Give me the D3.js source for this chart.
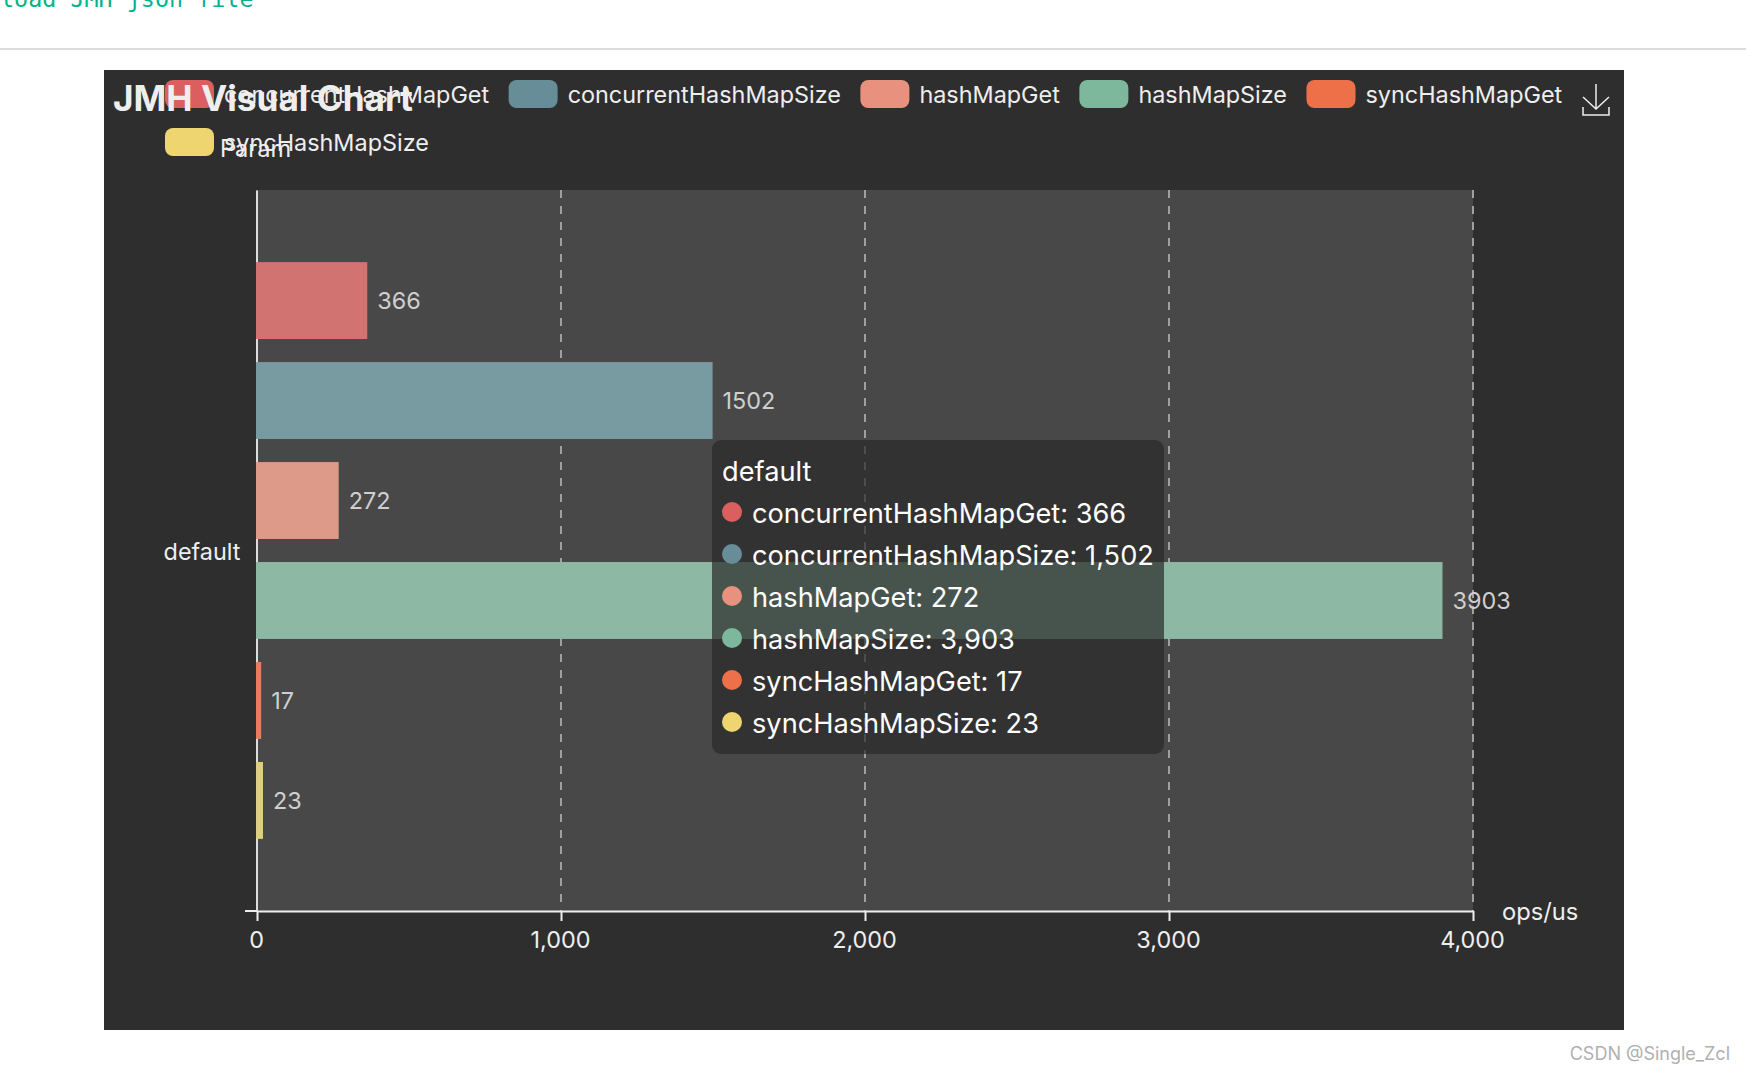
<!DOCTYPE html>
<html><head><meta charset="utf-8">
<script src="https://cdn.jsdelivr.net/npm/d3@7/dist/d3.min.js"></script>
<style>html,body{margin:0;padding:0;background:#fff;overflow:hidden}svg{display:block}text{font-family:Inter,"Liberation Sans",sans-serif}</style>
</head><body><div id="c"></div>
<script>
const categories = ["default"];
const seriesNames = ["concurrentHashMapGet","concurrentHashMapSize","hashMapGet","hashMapSize","syncHashMapGet","syncHashMapSize"];
const seriesValues = [366,1502,272,3903,17,23];
const xTicks = [0,1000,2000,3000,4000];
const swatchColors = ["#dc5f5f","#668d98","#e8917e","#7db89c","#ee7049","#efd570"];
const barColors = ["#d17371","#789aa1","#dd9a88","#8db8a3","#e0805f","#dccf80"];

const W=1746,H=1072;
const svg=d3.select("#c").append("svg").attr("width",W).attr("height",H);
const F='Inter,"Liberation Sans",sans-serif';

// page furniture
svg.append("text").attr("x",0).attr("y",7).attr("fill","#00b38c").style("font-family","'DejaVu Sans Mono',monospace").style("font-size","23.4px").text("load JMH json file");
svg.append("rect").attr("x",0).attr("y",48).attr("width",W).attr("height",2).attr("fill","#dcdcdc");
svg.append("rect").attr("x",104).attr("y",70).attr("width",1520).attr("height",960).attr("fill","#2e2e2e");
svg.append("text").attr("x",1730).attr("y",1060).attr("text-anchor","end").attr("fill","#b0b0b0").style("font-size","18px").text("CSDN @Single_Zcl");

const x=d3.scaleLinear().domain([0,4000]).range([257,1473]);
const y0=d3.scaleBand().domain(categories).range([190,911]).paddingInner(0.2).paddingOuter(0.1);
const y1=d3.scaleBand().domain(seriesNames).range([y0("default"),y0("default")+y0.bandwidth()]).paddingInner(0.3/1.3).paddingOuter(0);

svg.append("rect").attr("x",x(0)-1).attr("y",190).attr("width",x(4000)-x(0)+1).attr("height",721).attr("fill","#484848");
svg.append("g").selectAll("line").data(xTicks.slice(1)).join("line")
 .attr("x1",d=>x(d)).attr("x2",d=>x(d)).attr("y1",190).attr("y2",911)
 .attr("stroke","#a0a0a0").attr("stroke-width",2).attr("stroke-dasharray","8 8");

// y axis sits under the bars
const ay=svg.append("g").attr("transform","translate(256.5,0)").call(d3.axisLeft(y0).tickSize(0).tickSizeOuter(0).tickPadding(16));
ay.select(".domain").attr("stroke","#ddd").attr("stroke-width",2);
ay.selectAll(".tick text").attr("fill","#eee").attr("y",2).style("font-size","23.4px").style("font-family",F);

// bars
svg.append("g").attr("transform","translate(-1,0)").selectAll("rect").data(seriesNames).join("rect")
 .attr("x",x(0)).attr("y",d=>y1(d)).attr("height",y1.bandwidth())
 .attr("width",(d,i)=>x(seriesValues[i])-x(0)).attr("fill",(d,i)=>barColors[i]);

// x axis
const ax=svg.append("g").attr("transform","translate(0,911)").call(d3.axisBottom(x).tickValues(xTicks).tickFormat(d3.format(",")).tickSize(10).tickSizeOuter(0).tickPadding(10));
ax.select(".domain").attr("stroke","#eee").attr("stroke-width",2);
ax.selectAll(".tick line").attr("stroke","#eee").attr("stroke-width",2);
ax.selectAll(".tick text").attr("fill","#eee").attr("dx",-1).style("font-size","23.4px").style("font-family",F);
svg.append("line").attr("x1",245).attr("x2",x(0)).attr("y1",911).attr("y2",911).attr("stroke","#eee").attr("stroke-width",2);
svg.append("text").attr("x",1502).attr("y",920).attr("fill","#eee").style("font-size","23.7px").text("ops/us");
svg.append("text").attr("x",220).attr("y",157).attr("fill","#eee").style("font-size","23.6px").text("Param");

// data labels
svg.append("g").selectAll("text").data(seriesNames).join("text")
 .attr("x",(d,i)=>x(seriesValues[i])+9).attr("y",d=>y1(d)+y1.bandwidth()/2+8.5)
 .attr("fill","#cfcfcf").style("font-size","23.4px").text((d,i)=>seriesValues[i]);

// legend (flow layout)
const leg=svg.append("g");
let lx=165,ly=80;
seriesNames.forEach((n,i)=>{
  const t=leg.append("text").attr("fill","#eee").style("font-size","23.4px").text(n);
  const w=t.node().getComputedTextLength();
  if(lx+49+9+w>1575){lx=165;ly+=48;}
  leg.append("rect").attr("x",lx).attr("y",ly).attr("width",49).attr("height",28).attr("rx",8).attr("fill",swatchColors[i]);
  t.attr("x",lx+59).attr("y",ly+23);
  lx+=49+9+w+20.5;
});

// title
svg.append("text").attr("x",113).attr("y",111).attr("fill","#eee").style("font-size","35.2px").style("font-weight",700).text("JMH Visual Chart");

// download icon
svg.append("path").attr("d","M1596 84V109M1583 97L1596 109L1609 97M1583 107V115H1609V107").attr("fill","none").attr("stroke","#eee").attr("stroke-width",1.5);

// tooltip
const tip=svg.append("g");
tip.append("rect").attr("x",712).attr("y",440).attr("width",452).attr("height",314).attr("rx",9).attr("fill","rgb(41,41,41)").attr("fill-opacity",0.7);
tip.append("text").attr("x",722).attr("y",480.5).attr("fill","#fff").style("font-size","27.2px").text(categories[0]);
const fmt=d3.format(",");
seriesNames.forEach((n,i)=>{
  const cy=512+i*42;
  tip.append("circle").attr("cx",732).attr("cy",cy).attr("r",10).attr("fill",swatchColors[i]);
  tip.append("text").attr("x",752).attr("y",cy+10.5).attr("fill","#fff").style("font-size","27.2px").text(n+": "+fmt(seriesValues[i]));
});
</script></body></html>
